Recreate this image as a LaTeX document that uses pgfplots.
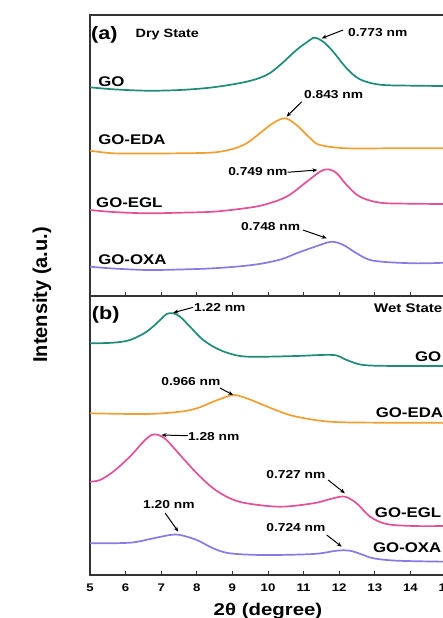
\documentclass[border=0pt]{standalone}
\usepackage{pgfplots}
\pgfplotsset{compat=1.18}
\usepackage{fontspec}
\setmainfont[FakeStretch=1.2]{Liberation Sans}
\newfontfamily\plainsans{Liberation Sans}
\usetikzlibrary{arrows.meta}
\definecolor{cteal}{RGB}{30,140,120}
\definecolor{corange}{RGB}{240,160,50}
\definecolor{cpink}{RGB}{228,80,150}
\definecolor{cpurple}{RGB}{140,120,228}
\pgfplotsset{
  panel/.style={
    scale only axis, width=356pt,
    xmin=5, xmax=15, ymin=0,
    xtick={5,...,15}, ytick=\empty,
    xtick pos=lower, tick align=inside,
    major tick length=4pt,
    axis line style={line width=1.1pt, black!80},
    every tick/.style={line width=0.9pt, black!80},
    /pgf/number format/assume math mode=true,
    ticklabel style={font=\bfseries\fontsize{11}{12}\selectfont},
    every axis plot/.append style={line width=1.7pt, smooth, tension=0.55},
  },
}
\tikzset{
  lab/.style={font=\bfseries\fontsize{14}{16}\selectfont, inner sep=1pt},
  ann/.style={font=\bfseries\fontsize{11.5}{13}\selectfont, inner sep=1pt},
  arr/.style={-{Stealth[length=5pt,width=4pt]}, line width=1pt},
}
\begin{document}
\begin{tikzpicture}[x=1pt,y=1pt]
% ---------- panel (a): dry state ----------
\begin{axis}[panel, at={(90pt,322pt)}, anchor=south west, height=281pt, ymax=281, xticklabels={}]
\addplot[cteal] coordinates {(5.0,208.7)(5.65,206.7)(6.59,205.3)(7.53,206)(8.46,208.7)(9.40,214.3)(9.96,221)(10.34,231)(10.8,246)(11.18,256)(11.32,258.3)(11.55,254.3)(11.83,244.3)(12.21,227.7)(12.58,216.7)(13.15,211.3)(14.08,210.3)(15,210)};
\addplot[corange] coordinates {(5.0,145.3)(5.65,142.7)(6.59,142.5)(7.53,142.7)(8.46,143.5)(9.0,147)(9.40,152.7)(9.78,163)(10.15,173)(10.48,177.7)(10.8,171)(11.18,158)(11.46,151)(12.21,147.7)(13.5,147.7)(15,147.7)};
\addplot[cpink] coordinates {(5.0,86)(5.65,84)(6.59,82.7)(7.53,83.3)(8.46,84.3)(9.3,87.5)(9.87,91)(10.52,99.3)(11.09,114.3)(11.46,124.3)(11.69,126.7)(11.93,122.7)(12.21,111)(12.58,99.3)(13.15,93.3)(14.0,92.3)(15,92)};
\addplot[cpurple] coordinates {(5.0,29.3)(5.65,27.5)(6.59,26)(7.53,26.5)(8.46,27.7)(9.3,30)(9.87,32.7)(10.4,37)(10.8,42.7)(11.46,51)(11.79,54.3)(12.12,51)(12.49,42.7)(12.96,35.3)(14.08,32.7)(15,33.3)};
\node[anchor=west, inner sep=1pt, font=\bfseries\fontsize{18}{20}\selectfont] at (axis cs:5.0,261) {(a)};
\node[anchor=west, inner sep=1pt, font=\bfseries\fontsize{12}{14}\selectfont] at (axis cs:6.25,261) {Dry State};
\node[anchor=west, lab] at (axis cs:5.2,214) {GO};
\node[anchor=west, lab] at (axis cs:5.2,156) {GO-EDA};
\node[anchor=west, lab] at (axis cs:5.14,93) {GO-EGL};
\node[anchor=west, lab] at (axis cs:5.2,36) {GO-OXA};
\node[anchor=west, ann] at (axis cs:12.22,263) {0.773 nm};
\draw[arr] (axis cs:12.11,266) -- (axis cs:11.51,257.7);
\node[anchor=west, ann] at (axis cs:10.98,201) {0.843 nm};
\draw[arr] (axis cs:10.95,194.3) -- (axis cs:10.52,179.3);
\node[anchor=west, ann] at (axis cs:8.85,124) {0.749 nm};
\draw[arr] (axis cs:10.55,123.7) -- (axis cs:11.39,126);
\node[anchor=west, ann] at (axis cs:9.21,69) {0.748 nm};
\draw[arr] (axis cs:10.98,66) -- (axis cs:11.65,57.7);
\end{axis}
% ---------- panel (b): wet state ----------
\begin{axis}[panel, at={(90pt,43pt)}, anchor=south west, height=279pt, ymax=279,
  xticklabel style={yshift=-5pt},
  xlabel={2θ (degree)},
  xlabel style={font=\bfseries\fontsize{17}{19}\selectfont, yshift=-5pt}]
\addplot[cteal] coordinates {(5.0,231.7)(5.65,232.3)(6.12,235)(6.59,243.3)(6.97,255)(7.15,261)(7.34,261.7)(7.53,258.3)(7.81,248.3)(8.18,235)(8.65,225)(9.21,219)(9.87,218.3)(10.8,219)(11.83,220)(12.21,215)(12.68,210)(13.62,209)(15,209)};
\addplot[corange] coordinates {(5.0,161.7)(6.59,161)(7.53,163.3)(8.0,166.7)(8.46,173.3)(8.84,178.3)(9.07,180)(9.40,176.7)(9.87,170)(10.34,163.3)(10.8,158.3)(11.74,153.3)(13.15,152.3)(15,152.3)};
\addplot[cpink] coordinates {(5.0,93.3)(5.28,95)(5.65,103.3)(6.12,118.3)(6.50,133.3)(6.73,140)(6.92,140)(7.15,135)(7.53,120)(8.0,101.7)(8.46,86.7)(8.93,76.7)(9.40,71.7)(10.34,68.3)(11.27,71.7)(11.83,76.7)(12.16,78.3)(12.49,71.7)(12.87,58.3)(13.33,51)(14.08,49)(15,49)};
\addplot[cpurple] coordinates {(5.0,31.7)(6.12,32.3)(6.78,36.7)(7.25,40)(7.53,40)(8.0,35)(8.46,26.7)(8.93,21.7)(9.87,20)(11.27,21)(11.93,24.3)(12.30,24.3)(12.68,20)(12.96,16.7)(13.62,14.3)(15,13.3)};
\node[anchor=west, inner sep=1pt, font=\bfseries\fontsize{18}{20}\selectfont] at (axis cs:5.02,260) {(b)};
\node[anchor=east, inner sep=1pt, font=\bfseries\fontsize{12.5}{14}\selectfont] at (axis cs:14.93,267) {Wet State};
\node[anchor=east, lab] at (axis cs:14.9,218) {GO};
\node[anchor=east, lab] at (axis cs:14.95,162) {GO-EDA};
\node[anchor=east, lab] at (axis cs:14.9,62) {GO-EGL};
\node[anchor=east, lab] at (axis cs:14.9,27) {GO-OXA};
\node[anchor=west, ann] at (axis cs:7.89,268) {1.22 nm};
\draw[arr] (axis cs:7.9,267.7) -- (axis cs:7.34,262.3);
\node[anchor=west, ann] at (axis cs:6.97,193) {0.966 nm};
\draw[arr] (axis cs:8.65,187) -- (axis cs:9.02,180);
\node[anchor=west, ann] at (axis cs:7.72,138) {1.28 nm};
\draw[arr] (axis cs:7.75,139.3) -- (axis cs:7.01,140);
\node[anchor=west, ann] at (axis cs:9.92,100) {0.727 nm};
\draw[arr] (axis cs:11.69,95) -- (axis cs:12.16,81.7);
\node[anchor=west, ann] at (axis cs:6.46,70) {1.20 nm};
\draw[arr] (axis cs:7.11,62) -- (axis cs:7.48,43.3);
\node[anchor=west, ann] at (axis cs:9.92,47) {0.724 nm};
\draw[arr] (axis cs:11.65,40) -- (axis cs:12.07,28.3);
\end{axis}
\node[rotate=90, font=\plainsans\bfseries\fontsize{20}{22}\selectfont] at (42,323) {Intensity (a.u.)};
\pgfresetboundingbox
\path[use as bounding box] (0,0) rectangle (443,618);
\end{tikzpicture}
\end{document}
